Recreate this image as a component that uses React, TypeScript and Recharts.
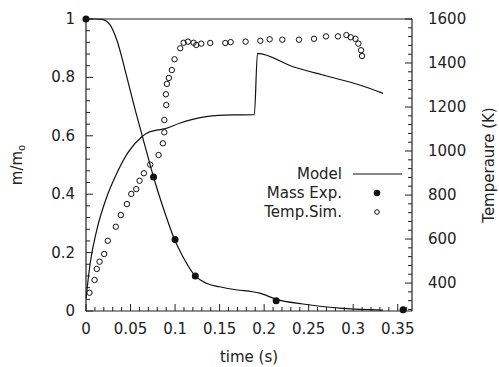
import React from "react";
import { ComposedChart, Line, Scatter, XAxis, YAxis } from "recharts";

// mass model curve (m/m0 vs time)
const massModel = [
  { x: 0, m: 1 }, { x: 0.01, m: 1 }, { x: 0.018, m: 0.999 }, { x: 0.0272, m: 0.979 },
  { x: 0.0346, m: 0.928 }, { x: 0.0458, m: 0.802 }, { x: 0.0553, m: 0.688 }, { x: 0.0627, m: 0.605 },
  { x: 0.0676, m: 0.55 }, { x: 0.0758, m: 0.459 }, { x: 0.0863, m: 0.357 }, { x: 0.0994, m: 0.245 },
  { x: 0.1088, m: 0.186 }, { x: 0.1227, m: 0.12 }, { x: 0.135, m: 0.095 }, { x: 0.15, m: 0.083 },
  { x: 0.17, m: 0.072 }, { x: 0.187, m: 0.066 }, { x: 0.195, m: 0.061 }, { x: 0.2137, m: 0.04 },
  { x: 0.2436, m: 0.024 }, { x: 0.2885, m: 0.009 }, { x: 0.3335, m: 0.003 },
];

// measured mass
const massExp = [
  { x: 0, m: 1 }, { x: 0.0758, m: 0.459 }, { x: 0.1, m: 0.245 },
  { x: 0.1227, m: 0.12 }, { x: 0.2135, m: 0.035 }, { x: 0.356, m: 0.004 },
];

// temperature model curve (K)
const tempModel = [
  { x: 0, T: 330 }, { x: 0.0047, T: 490 }, { x: 0.0121, T: 641 }, { x: 0.0234, T: 792 },
  { x: 0.0346, T: 899 }, { x: 0.0478, T: 997 }, { x: 0.0627, T: 1065 }, { x: 0.0676, T: 1080 },
  { x: 0.0796, T: 1095 }, { x: 0.0901, T: 1103 }, { x: 0.105, T: 1126 }, { x: 0.135, T: 1156 },
  { x: 0.1646, T: 1164 }, { x: 0.189, T: 1165 }, { x: 0.1925, T: 1444 }, { x: 0.2324, T: 1383 },
  { x: 0.27, T: 1341 }, { x: 0.3073, T: 1300 }, { x: 0.3335, T: 1262 },
];

// simulated temperature points
const tempSim = [
  { x: 0.0039, T: 356 }, { x: 0.0096, T: 414 }, { x: 0.0121, T: 464 }, { x: 0.0152, T: 497 },
  { x: 0.0204, T: 532 }, { x: 0.0245, T: 592 }, { x: 0.0335, T: 656 }, { x: 0.0391, T: 709 },
  { x: 0.0459, T: 759 }, { x: 0.0508, T: 805 }, { x: 0.0564, T: 827 }, { x: 0.0601, T: 865 },
  { x: 0.065, T: 899 }, { x: 0.0721, T: 938 }, { x: 0.0815, T: 982 }, { x: 0.0863, T: 1035 },
  { x: 0.0879, T: 1085 }, { x: 0.0879, T: 1141 }, { x: 0.0901, T: 1209 }, { x: 0.0897, T: 1258 },
  { x: 0.0908, T: 1305 }, { x: 0.093, T: 1332 }, { x: 0.0964, T: 1368 }, { x: 0.0994, T: 1417 },
  { x: 0.1058, T: 1467 }, { x: 0.1096, T: 1492 }, { x: 0.1144, T: 1497 }, { x: 0.1208, T: 1492 },
  { x: 0.1238, T: 1482 }, { x: 0.1294, T: 1488 }, { x: 0.1395, T: 1491 }, { x: 0.1564, T: 1491 },
  { x: 0.1624, T: 1495 }, { x: 0.1792, T: 1497 }, { x: 0.1957, T: 1501 }, { x: 0.2062, T: 1508 },
  { x: 0.2204, T: 1506 }, { x: 0.2391, T: 1506 }, { x: 0.256, T: 1510 }, { x: 0.2694, T: 1521 },
  { x: 0.2829, T: 1521 }, { x: 0.2924, T: 1527 }, { x: 0.2972, T: 1517 }, { x: 0.3025, T: 1510 },
  { x: 0.3058, T: 1488 }, { x: 0.3088, T: 1458 }, { x: 0.3099, T: 1432 },
];

const xMajor = [0, 0.05, 0.1, 0.15, 0.2, 0.25, 0.3, 0.35];
const mMajor = [0, 0.2, 0.4, 0.6, 0.8, 1];
const tMajor = [400, 600, 800, 1000, 1200, 1400, 1600];
const xTicks = Array.from({ length: 37 }, (_, i) => +(i * 0.01).toFixed(2));
const mTicks = Array.from({ length: 26 }, (_, i) => +(i * 0.04).toFixed(2));
const tTicks = Array.from({ length: 34 }, (_, i) => 280 + i * 40);

const FONT = "DejaVu Sans";
const INK = "#222";
const isMajor = (v: number, list: number[]) => list.some((m) => Math.abs(m - v) < 1e-6);

const BottomTick = (p: any) => {
  const v = p.payload.value;
  const major = isMajor(v, xMajor);
  return (
    <g>
      <line x1={p.x} x2={p.x} y1={p.y} y2={p.y - (major ? 7 : 4)} stroke={INK} />
      {major && (
        <text x={p.x} y={p.y + 18} textAnchor="middle" dominantBaseline="central" fontFamily={FONT} fontSize={15} fill={INK}>
          {String(v)}
        </text>
      )}
    </g>
  );
};

const TopTick = (p: any) => {
  const major = isMajor(p.payload.value, xMajor);
  return <line x1={p.x} x2={p.x} y1={p.y} y2={p.y + (major ? 7 : 4)} stroke={INK} />;
};

const LeftTick = (p: any) => {
  const v = p.payload.value;
  const major = isMajor(v, mMajor);
  return (
    <g>
      <line x1={p.x} x2={p.x + (major ? 7 : 4)} y1={p.y} y2={p.y} stroke={INK} />
      {major && (
        <text x={p.x - 11} y={p.y} textAnchor="end" dominantBaseline="central" fontFamily={FONT} fontSize={15} fill={INK}>
          {String(v)}
        </text>
      )}
    </g>
  );
};

const RightTick = (p: any) => {
  const v = p.payload.value;
  const major = isMajor(v, tMajor);
  return (
    <g>
      <line x1={p.x} x2={p.x - (major ? 7 : 4)} y1={p.y} y2={p.y} stroke={INK} />
      {major && (
        <text x={p.x + 16} y={p.y} textAnchor="start" dominantBaseline="central" fontFamily={FONT} fontSize={15} fill={INK}>
          {String(v)}
        </text>
      )}
    </g>
  );
};

const filledDot = (p: any) => <circle cx={p.cx} cy={p.cy} r={3.5} fill="#111" />;
const openDot = (p: any) => <circle cx={p.cx} cy={p.cy} r={2.7} fill="none" stroke="#111" strokeWidth={1} />;

export default function App() {
  return (
    <div style={{ position: "absolute", left: 0, top: 0, width: 499, height: 367 }}>
      <ComposedChart width={499} height={367} margin={{ top: 0, right: 0, bottom: 0, left: 0 }}>
        <XAxis
          xAxisId="b"
          dataKey="x"
          type="number"
          domain={[0, 0.366]}
          ticks={xTicks}
          interval={0}
          height={56}
          tickSize={0}
          tickMargin={0}
          tick={BottomTick}
          axisLine={{ stroke: INK, strokeWidth: 1.2 }}
          label={(props: any) => {
            const vb = props.viewBox;
            return (
              <text x={vb.x + vb.width / 2} y={vb.y + 46} textAnchor="middle" dominantBaseline="central" fontFamily={FONT} fontSize={15} fill={INK}>
                time (s)
              </text>
            );
          }}
        />
        <XAxis
          xAxisId="top"
          orientation="top"
          type="number"
          domain={[0, 0.366]}
          ticks={xTicks}
          interval={0}
          height={19}
          tickSize={0}
          tickMargin={0}
          tick={TopTick}
          axisLine={{ stroke: INK, strokeWidth: 1.2 }}
        />
        <YAxis
          yAxisId="m"
          dataKey="m"
          type="number"
          domain={[0, 1]}
          ticks={mTicks}
          interval={0}
          width={86}
          tickSize={0}
          tickMargin={0}
          tick={LeftTick}
          axisLine={{ stroke: INK, strokeWidth: 1.2 }}
          label={(props: any) => {
            const vb = props.viewBox;
            const cx = vb.x + 17;
            const cy = vb.y + vb.height / 2;
            return (
              <text x={cx} y={cy} transform={`rotate(-90, ${cx}, ${cy})`} textAnchor="middle" dominantBaseline="central" fontFamily={FONT} fontSize={15} fill={INK}>
                m/m<tspan fontSize={10} dy={4}>o</tspan>
              </text>
            );
          }}
        />
        <YAxis
          yAxisId="T"
          dataKey="T"
          orientation="right"
          type="number"
          domain={[273, 1600]}
          ticks={tTicks}
          interval={0}
          width={87}
          tickSize={0}
          tickMargin={0}
          tick={RightTick}
          axisLine={{ stroke: INK, strokeWidth: 1.2 }}
          label={(props: any) => {
            const vb = props.viewBox;
            const cx = vb.x + 77;
            const cy = vb.y + vb.height / 2;
            return (
              <text x={cx} y={cy} transform={`rotate(-90, ${cx}, ${cy})`} textAnchor="middle" dominantBaseline="central" fontFamily={FONT} fontSize={15} fill={INK}>
                Temperaure (K)
              </text>
            );
          }}
        />
        <Line xAxisId="b" yAxisId="m" data={massModel} dataKey="m" type="monotone" stroke="#111" strokeWidth={1.2} dot={false} isAnimationActive={false} />
        <Line xAxisId="b" yAxisId="T" data={tempModel} dataKey="T" type="monotone" stroke="#111" strokeWidth={1.2} dot={false} isAnimationActive={false} />
        <Scatter xAxisId="b" yAxisId="m" data={massExp} dataKey="m" shape={filledDot} isAnimationActive={false} />
        <Scatter xAxisId="b" yAxisId="T" data={tempSim} dataKey="T" shape={openDot} isAnimationActive={false} />
      </ComposedChart>
      <svg width={499} height={367} style={{ position: "absolute", left: 0, top: 0, pointerEvents: "none" }}>
        <g fontFamily={FONT} fontSize={15} fill={INK}>
          <text x={342} y={174} textAnchor="end" dominantBaseline="central">Model</text>
          <line x1={353} x2={402} y1={174} y2={174} stroke="#111" strokeWidth={1.2} />
          <text x={342} y={193} textAnchor="end" dominantBaseline="central">Mass Exp.</text>
          <circle cx={377} cy={193} r={3.3} fill="#111" />
          <text x={342} y={212} textAnchor="end" dominantBaseline="central">Temp.Sim.</text>
          <circle cx={377} cy={212} r={2.3} fill="none" stroke="#111" strokeWidth={1} />
        </g>
      </svg>
    </div>
  );
}
